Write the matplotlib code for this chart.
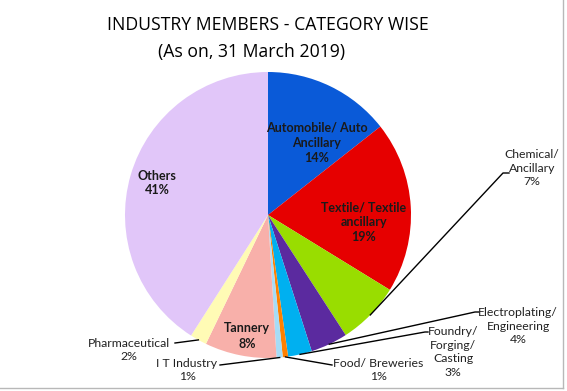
import matplotlib
matplotlib.use('Agg')
import matplotlib.pyplot as plt
import numpy as np

# Data
categories = ['Automobile/ Auto\nAncillary', 'Textile/ Textile\nancillary', 'Chemical/\nAncillary',
              'Electroplating/\nEngineering', 'Foundry/\nForging/\nCasting', 'Food/ Breweries',
              'I T Industry', 'Tannery', 'Pharmaceutical', 'Others']
shares = [14.4, 19.4, 7.1, 4.2, 2.7, 0.6, 0.7, 8.1, 1.9, 41.0]
colors = ['#0a5ad8', '#e60000', '#99dd00', '#5b2a9f', '#00b0f0', '#ff8000',
          '#a6dcf7', '#f8b0aa', '#fffbb5', '#e1c6f9']

W, H = 567, 391
fig = plt.figure(figsize=(W / 100, H / 100), dpi=100)
ax = fig.add_axes([0, 0, 1, 1])

# pie centre / radius in pixel units (y measured from bottom)
cx, cy, R = 268, H - 215, 143
wedges, _ = ax.pie(shares, colors=colors, startangle=90, counterclock=False,
                   center=(cx, cy), radius=R, wedgeprops=dict(linewidth=0))
ax.set_xlim(0, W)
ax.set_ylim(0, H)
ax.set_aspect('auto')
ax.axis('off')

lbl_font = 'Lato'
pct = [f'{round(s)}%' for s in shares]

# labels inside the pie (index, x, y) in pixels from top-left
inside = [(0, 317, 143), (1, 364, 222), (9, 157, 183), (7, 247, 336)]
for i, x, y in inside:
    name = categories[i].replace('\n', ' ') if i == 9 else categories[i]
    ax.text(x, H - y, name + '\n' + pct[i], ha='center', va='center',
            fontsize=9, fontweight='bold', color='#1a1a1a', family=lbl_font,
            linespacing=1.3)

# labels outside with leader lines: (index, text x, text y, line end x, line end y, hook)
outside = [(2, 532, 168, 503, 173, 6),
           (3, 518, 326, 475, 312, 4),
           (4, 453, 352, 425, 332, 3),
           (5, 378, 370, 332, 365, 0),
           (6, 187, 370, 220, 365, 0),
           (8, 129, 350, 175, 343, 0)]
for i, tx, ty, ex, ey, hook in outside:
    w = wedges[i]
    mid = np.deg2rad((w.theta1 + w.theta2) / 2)
    sx, sy = cx + R * np.cos(mid), cy + R * np.sin(mid)
    xs = [sx, ex, ex + hook]
    ys = [sy, H - ey, H - ey]
    ax.plot(xs, ys, color='black', lw=1)
    ax.text(tx, H - ty, categories[i] + '\n' + pct[i], ha='center', va='center',
            fontsize=8.8, color='#222222', family=lbl_font, linespacing=1.3)

# title
ax.text(268, H - 25, 'INDUSTRY MEMBERS - CATEGORY WISE', ha='center', va='center',
        fontsize=12.7, color='black', family='Open Sans')
ax.text(251, H - 52, '(As on, 31 March 2019)', ha='center', va='center',
        fontsize=12.7, color='black', family='Open Sans')

# frame lines on right and bottom
ax.plot([563, 563], [H, H - 388], color='#b8b8b8', lw=1)
ax.plot([0, 563], [H - 388, H - 388], color='#b8b8b8', lw=1)

fig.savefig('out.png', dpi=100)
